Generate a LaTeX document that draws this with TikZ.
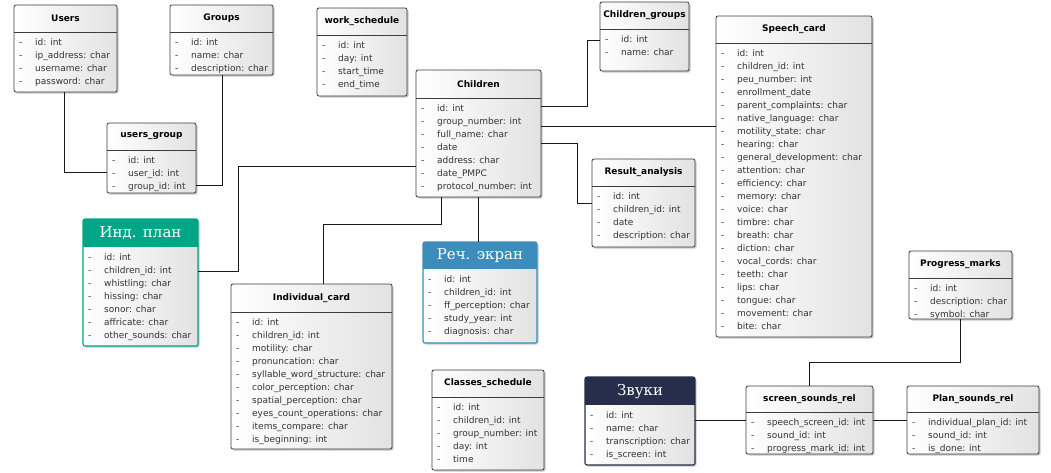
\documentclass[tikz,border=0pt]{standalone}
\usepackage{fontspec}
\setmainfont{DejaVu Sans}
\newfontfamily\slabfont{DejaVu Serif}
\usetikzlibrary{fit}
\definecolor{tealc}{RGB}{0,166,133}
\definecolor{bluec}{RGB}{60,140,188}
\definecolor{navyc}{RGB}{38,46,75}
\definecolor{boxr}{RGB}{226,226,226}
\definecolor{shadowc}{RGB}{200,200,200}
\definecolor{linec}{RGB}{60,60,60}
\tikzset{
  boxline/.style={draw=linec, line width=0.8pt},
  ttl/.style={font=\bfseries\fontsize{9}{10}\selectfont, inner sep=0pt},
  ctl/.style={font=\slabfont\fontsize{15}{16}\selectfont, text=white, inner sep=0pt},
  rowdash/.style={anchor=west, inner sep=0pt, text height=7pt, text depth=2pt, font=\fontsize{9}{10}\selectfont, text=black!80},
  rowtxt/.style={anchor=west, inner sep=0pt, text height=7pt, text depth=2pt, font=\fontsize{9}{10}\selectfont, text=black!80},
  conn/.style={draw=black!90, line width=0.9pt},
}
\newcommand\plaintab[8]{%
  \fill[shadowc, rounded corners=2pt] (#2+1.5,#3+1.5) rectangle (#4+1.5,#5+1.5);
  \shade[left color=white, right color=boxr, rounded corners=2pt] (#2,#3) rectangle (#4,#5);
  \draw[boxline, rounded corners=2pt] (#2,#3) rectangle (#4,#5);
  \draw[boxline] (#2,#6) -- (#4,#6);
  \node[ttl] at ({(#2+#4)/2},{(#3+#6)/2}) {#7};
  \node[fit={(#2,#3) (#4,#5)}, inner sep=0pt] (#1) {};
  \foreach \rtx [count=\ri from 0] in {#8} {
    \node[rowdash] at (#2+5, #6+10.5+13*\ri) {-};
    \node[rowtxt] at (#2+21, #6+10.5+13*\ri) {\rtx};
  }
}
\newcommand\colortab[9]{%
  \fill[shadowc, rounded corners=2pt] (#3+1.5,#4+1.5) rectangle (#5+1.5,#6+1.5);
  \shade[left color=white, right color=boxr, rounded corners=2pt] (#3,#4) rectangle (#5,#6);
  \begin{scope}
    \clip[rounded corners=2pt] (#3,#4) rectangle (#5,#6);
    \fill[#1] (#3,#4) rectangle (#5,#7);
  \end{scope}
  \draw[draw=#1, line width=1.1pt, rounded corners=2pt] (#3,#4) rectangle (#5,#6);
  \node[ctl] at ({(#3+#5)/2},{(#4+#7)/2+0.5}) {#8};
  \node[fit={(#3,#4) (#5,#6)}, inner sep=0pt] (#2) {};
  \foreach \rtx [count=\ri from 0] in {#9} {
    \node[rowdash] at (#3+5, #7+10.5+13*\ri) {-};
    \node[rowtxt] at (#3+21, #7+10.5+13*\ri) {\rtx};
  }
}
\begin{document}
\begin{tikzpicture}[x=1pt,y=-1pt]
\fill[white] (0,0) rectangle (1051,472);
\useasboundingbox (0,0) rectangle (1051,472);

\plaintab{users}{14}{5}{117}{92}{32}{Users}{id: int, ip\_address: char, username: char, password: char}
\plaintab{groups}{170}{5}{273}{75}{32}{Groups}{id: int, name: char, description: char}
\plaintab{usersgroup}{107}{123}{196}{193}{150}{users\_group}{id: int, user\_id: int, group\_id: int}
\plaintab{work}{317}{8}{407}{96}{35}{work\_schedule}{id: int, day: int, start\_time, end\_time}
\plaintab{children}{416}{70}{541}{197}{98}{Children}{id: int, group\_number: int, full\_name: char, date, address: char, date\_PMPC, protocol\_number: int}
\plaintab{cgroups}{600}{2}{689}{71}{29}{Children\_groups}{id: int, name: char}
\plaintab{speech}{716}{16}{872}{337}{43}{Speech\_card}{id: int, children\_id: int, peu\_number: int, enrollment\_date, parent\_complaints: char, native\_language: char, motility\_state: char, hearing: char, general\_development: char, attention: char, efficiency: char, memory: char, voice: char, timbre: char, breath: char, diction: char, vocal\_cords: char, teeth: char, lips: char, tongue: char, movement: char, bite: char}
\plaintab{result}{592}{159}{695}{247}{186}{Result\_analysis}{id: int, children\_id: int, date, description: char}
\colortab{tealc}{indplan}{83}{219}{198}{346}{247}{Инд. план}{id: int, children\_id: int, whistling: char, hissing: char, sonor: char, affricate: char, other\_sounds: char}
\plaintab{indcard}{231}{284}{392}{449}{312}{Individual\_card}{id: int, children\_id: int, motility: char, pronuncation: char, syllable\_word\_structure: char, color\_perception: char, spatial\_perception: char, eyes\_count\_operations: char, items\_compare: char, is\_beginning: int}
\colortab{bluec}{rech}{423}{242}{537}{343}{269}{Реч. экран}{id: int, children\_id: int, ff\_perception: char, study\_year: int, diagnosis: char}
\plaintab{classes}{432}{370}{544}{470}{397}{Classes\_schedule}{id: int, children\_id: int, group\_number: int, day: int, time}
\plaintab{progress}{909}{251}{1012}{319}{278}{Progress\_marks}{id: int, description: char, symbol: char}
\colortab{navyc}{zvuki}{585}{377}{695}{465}{405}{Звуки}{id: int, name: char, transcription: char, is\_screen: int}
\plaintab{ssr}{746}{386}{873}{454}{412}{screen\_sounds\_rel}{speech\_screen\_id: int, sound\_id: int, progress\_mark\_id: int}
\plaintab{psr}{907}{386}{1039}{454}{412}{Plan\_sounds\_rel}{individual\_plan\_id: int, sound\_id: int, is\_done: int}

% connectors
\draw[conn] (users.south -| 64,0) |- (usersgroup.west |- 0,172);
\draw[conn] (groups.south -| 222,0) |- (usersgroup.east |- 0,185);
\draw[conn] (children.east |- 0,106) -- ++(46,0) |- (cgroups.west |- 0,40);
\draw[conn] (children.east |- 0,126) -- (speech.west |- 0,126);
\draw[conn] (children.east |- 0,143) -- ++(36,0) |- (result.west |- 0,203);
\draw[conn] (children.west |- 0,166) -- ++(-177,0) |- (indplan.east |- 0,271);
\draw[conn] (children.south -| 441,0) -- ++(0,27) -| (indcard.north -| 323,0);
\draw[conn] (children.south -| 478,0) -- (rech.north -| 478,0);
\draw[conn] (progress.south -| 960,0) -- ++(0,43) -| (ssr.north -| 809,0);
\draw[conn] (zvuki.east |- 0,420) -- (ssr.west |- 0,420);
\draw[conn] (ssr.east |- 0,420) -- (psr.west |- 0,420);
\end{tikzpicture}
\end{document}
